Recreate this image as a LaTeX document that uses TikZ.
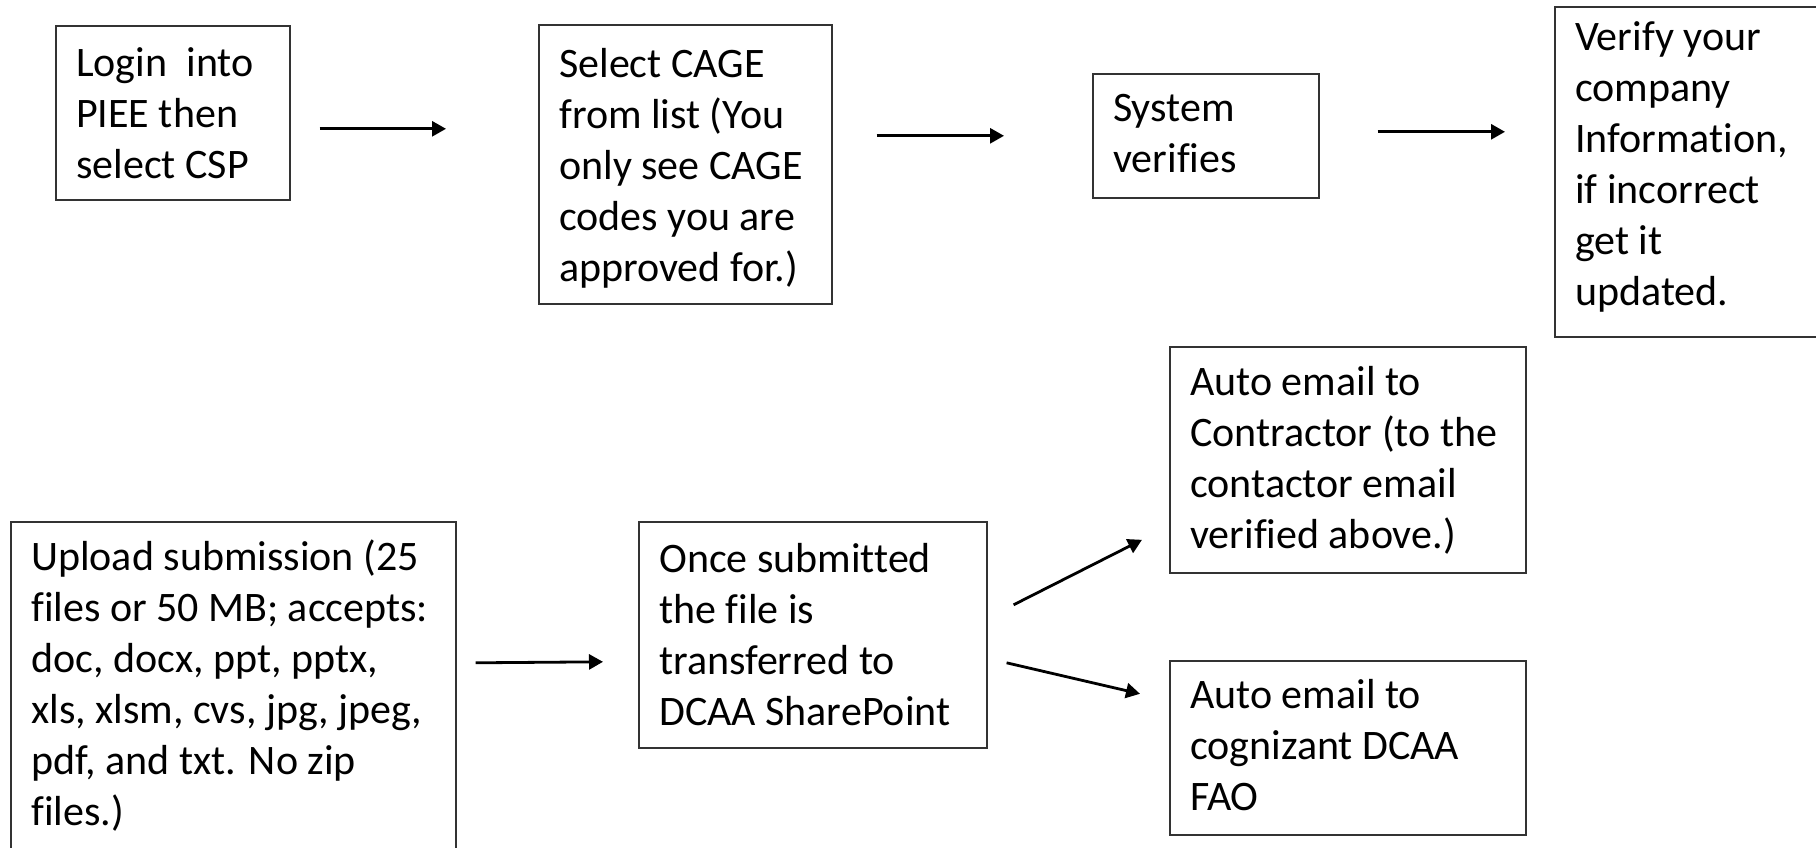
\documentclass[tikz,border=0pt]{standalone}
\usepackage{fontspec}
\setmainfont[Ligatures={NoCommon}]{Carlito}
\usetikzlibrary{arrows.meta,calc}
\tikzset{
  box/.style={draw=black!80, line width=1.6pt, inner sep=0pt, anchor=north west, rectangle},
  txt/.style={inner sep=0pt, anchor=north west, align=left, font=\fontsize{42pt}{51pt}\selectfont},
  arr/.style={line width=2.8pt, -{Triangle[length=14pt,width=15pt]}}
}
\newcommand\boxtext[3]{\node[txt] (#1t) at ($(#1.north west)+(21,#2-35)$) {\rule{0pt}{35pt}#3};}
\begin{document}
\begin{tikzpicture}[x=1pt,y=-1pt]
\clip (0,0) rectangle (1816,847);
\fill[white] (0,0) rectangle (1816,847);
% boxes
\node[box, minimum width=234pt, minimum height=174pt] (login) at (55,25) {};
\node[box, minimum width=293pt, minimum height=279pt] (select) at (538,24) {};
\node[box, minimum width=226pt, minimum height=124pt] (system) at (1092,73) {};
\node[box, minimum width=276pt, minimum height=330pt] (verify) at (1554,6) {};
\node[box, minimum width=356pt, minimum height=226pt] (auto1) at (1169,346) {};
\node[box, minimum width=356pt, minimum height=174pt] (auto2) at (1169,660) {};
\node[box, minimum width=445pt, minimum height=332pt] (upload) at (10,521) {};
\node[box, minimum width=348pt, minimum height=226pt] (once) at (638,521) {};
% texts
\boxtext{login}{51}{Login\ \ into\\PIEE then\\select CSP}
\boxtext{select}{53}{Select CAGE\\from list (You\\only see CAGE\\codes you are\\approved for.)}
\boxtext{system}{48}{System\\verifies}
\boxtext{verify}{44}{Verify your\\company\\Information,\\if incorrect\\get it\\updated.}
\boxtext{auto1}{49}{Auto email to\\Contractor (to the\\contactor email\\verified above.)}
\boxtext{auto2}{48}{Auto email to\\cognizant DCAA\\FAO}
\boxtext{upload}{49}{Upload submission (25\\files or 50 MB; accepts:\\doc, docx, ppt, pptx,\\xls, xlsm, cvs, jpg, jpeg,\\pdf, and txt. No zip\\files.)}
\boxtext{once}{51}{Once submitted\\the file is\\transferred to\\DCAA SharePoint}
% connectors
\draw[arr] ($(login.east)+(29,16)$) -- ($(select.west)+(-92,-35.5)$);
\draw[arr] ($(select.east)+(44,-28.5)$) -- ($(system.west)+(-88,0)$);
\draw[arr] ($(system.east)+(58,-4)$) -- ($(verify.west)+(-49,-40)$);
\draw[arr] ($(upload.east)+(19,-25)$) -- ($(once.west)+(-35,27)$);
\draw[arr] ($(once.east)+(26,-30)$) -- ($(auto1.west)+(-27,80)$);
\draw[arr] ($(once.east)+(19,28)$) -- ($(auto2.west)+(-29,-54)$);
\end{tikzpicture}
\end{document}
